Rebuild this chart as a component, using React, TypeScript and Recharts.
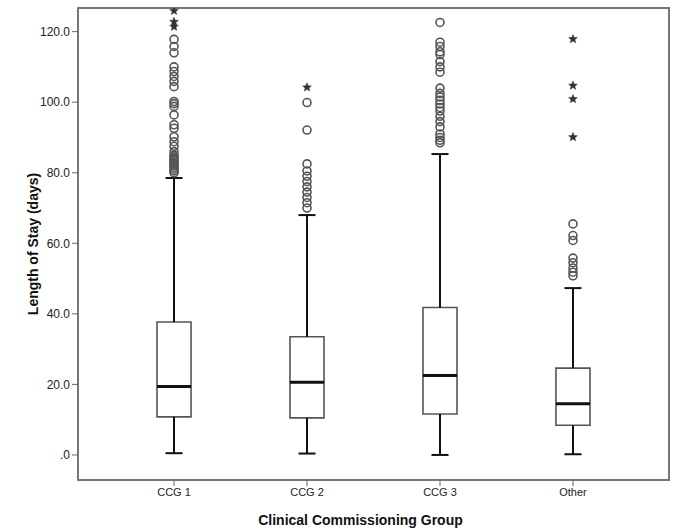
import React from 'react';
import {
  ComposedChart,
  Scatter,
  XAxis,
  YAxis,
  ReferenceArea,
  ReferenceLine,
} from 'recharts';

// groups and their five-number summaries (days)
const GROUPS = ['CCG 1', 'CCG 2', 'CCG 3', 'Other'];
const WHISKER_LOW = [0.5, 0.4, 0.0, 0.2];
const Q1 = [10.8, 10.5, 11.6, 8.4];
const MEDIAN = [19.4, 20.6, 22.5, 14.5];
const Q3 = [37.7, 33.5, 41.8, 24.6];
const WHISKER_HIGH = [78.5, 68.0, 85.3, 47.3];

// mild outliers (circles)
const OUT_CCG1 = [80, 80.5, 81, 81.5, 82, 82.5, 83, 83.5, 84, 84.5, 85, 86, 87.5, 88.8, 90.2, 92.6, 93.6, 96.4, 98.8, 99.6, 100.2, 104.4, 105.9, 107.3, 108.7, 110, 114, 115.8, 117.8];
const OUT_CCG2 = [70, 71.5, 73, 74.5, 76, 77.5, 79, 80.5, 82.5, 92.1, 99.9];
const OUT_CCG3 = [88.5, 89.2, 90, 91, 93, 94.5, 96, 97.5, 98.5, 99.5, 100.5, 101.5, 102.5, 104, 108.5, 110, 111.5, 113.5, 114.3, 115.8, 117, 122.6];
const OUT_OTHER = [50.8, 51.8, 53, 54.5, 55.8, 60.8, 62.2, 65.5];

// extreme outliers (stars)
const EXT_CCG1 = [121.4, 122.8, 125.9];
const EXT_CCG2 = [104.2];
const EXT_CCG3: number[] = [];
const EXT_OTHER = [90.1, 100.9, 104.7, 117.9];

const Y_TICKS = [0, 20, 40, 60, 80, 100, 120];

const X_DOMAIN: [number, number] = [0.278, 4.722];
const Y_DOMAIN: [number, number] = [-7.1, 126.7];

const BOX_HALF = 0.128;
const CAP_HALF = 0.064;

const FONT = 'Arial, "Liberation Sans", sans-serif';

const outliers = [OUT_CCG1, OUT_CCG2, OUT_CCG3, OUT_OTHER].flatMap((vals, i) =>
  vals.map((y) => ({ x: i + 1, y }))
);
const extremes = [EXT_CCG1, EXT_CCG2, EXT_CCG3, EXT_OTHER].flatMap((vals, i) =>
  vals.map((y) => ({ x: i + 1, y }))
);

const Ring = (props: any) => {
  const { cx, cy } = props;
  return <circle cx={cx} cy={cy} r={4} fill="none" stroke="#555" strokeWidth={1.6} />;
};

const Star = (props: any) => {
  const { cx, cy } = props;
  const pts: string[] = [];
  for (let k = 0; k < 10; k++) {
    const r = k % 2 === 0 ? 4.6 : 2;
    const a = -Math.PI / 2 + (k * Math.PI) / 5;
    pts.push(`${cx + r * Math.cos(a)},${cy + r * Math.sin(a)}`);
  }
  return <polygon points={pts.join(' ')} fill="#333" stroke="#333" strokeWidth={0.5} />;
};

export default function App() {
  return (
    <div style={{ position: 'absolute', left: 0, top: 0, background: '#fff' }}>
      <ComposedChart
        width={673}
        height={530}
        margin={{ top: 8, right: 4, bottom: 0, left: 0 }}
      >
        <XAxis
          type="number"
          dataKey="x"
          domain={X_DOMAIN}
          allowDataOverflow
          ticks={[1, 2, 3, 4]}
          tickFormatter={(v: number) => GROUPS[v - 1]}
          height={50}
          tickSize={6}
          tick={{ fontSize: 11, fill: '#222', fontFamily: FONT }}
          stroke="#666"
          axisLine={false}
          label={({ viewBox }: any) => (
            <text
              x={viewBox.x + viewBox.width / 2 - 13}
              y={viewBox.y + 45}
              textAnchor="middle"
              fontFamily={FONT}
              fontWeight="bold"
              fontSize={14}
              fill="#111"
            >
              Clinical Commissioning Group
            </text>
          )}
        />
        <YAxis
          type="number"
          dataKey="y"
          domain={Y_DOMAIN}
          allowDataOverflow
          ticks={Y_TICKS}
          tickFormatter={(v: number) => (v === 0 ? '.0' : v.toFixed(1))}
          width={78}
          tickSize={6}
          tick={{ fontSize: 12, fill: '#222', fontFamily: FONT }}
          stroke="#666"
          axisLine={false}
          label={({ viewBox }: any) => {
            const x = viewBox.x + 33;
            const y = viewBox.y + viewBox.height / 2;
            return (
              <text
                x={x}
                y={y}
                transform={`rotate(-90 ${x} ${y})`}
                textAnchor="middle"
                dominantBaseline="central"
                fontFamily={FONT}
                fontWeight="bold"
                fontSize={14}
                fill="#111"
              >
                Length of Stay (days)
              </text>
            );
          }}
        />

        {/* plot frame */}
        <ReferenceArea
          x1={X_DOMAIN[0]}
          x2={X_DOMAIN[1]}
          y1={Y_DOMAIN[0]}
          y2={Y_DOMAIN[1]}
          fill="#fff"
          fillOpacity={1}
          stroke="#777"
          strokeWidth={2}
        />

        {GROUPS.map((g, i) => {
          const x = i + 1;
          return (
            <React.Fragment key={g}>
              <ReferenceLine segment={[{ x, y: WHISKER_LOW[i] }, { x, y: Q1[i] }]} stroke="#111" strokeWidth={2} />
              <ReferenceLine segment={[{ x, y: Q3[i] }, { x, y: WHISKER_HIGH[i] }]} stroke="#111" strokeWidth={2} />
              <ReferenceLine
                segment={[{ x: x - CAP_HALF, y: WHISKER_LOW[i] }, { x: x + CAP_HALF, y: WHISKER_LOW[i] }]}
                stroke="#111"
                strokeWidth={2}
              />
              <ReferenceLine
                segment={[{ x: x - CAP_HALF, y: WHISKER_HIGH[i] }, { x: x + CAP_HALF, y: WHISKER_HIGH[i] }]}
                stroke="#111"
                strokeWidth={2}
              />
              <ReferenceArea
                x1={x - BOX_HALF}
                x2={x + BOX_HALF}
                y1={Q1[i]}
                y2={Q3[i]}
                fill="#fff"
                fillOpacity={1}
                stroke="#555"
                strokeWidth={1.6}
              />
              <ReferenceLine
                segment={[{ x: x - BOX_HALF, y: MEDIAN[i] }, { x: x + BOX_HALF, y: MEDIAN[i] }]}
                stroke="#111"
                strokeWidth={3}
              />
            </React.Fragment>
          );
        })}

        <Scatter data={outliers} shape={<Ring />} isAnimationActive={false} />
        <Scatter data={extremes} shape={<Star />} isAnimationActive={false} />
      </ComposedChart>
    </div>
  );
}
